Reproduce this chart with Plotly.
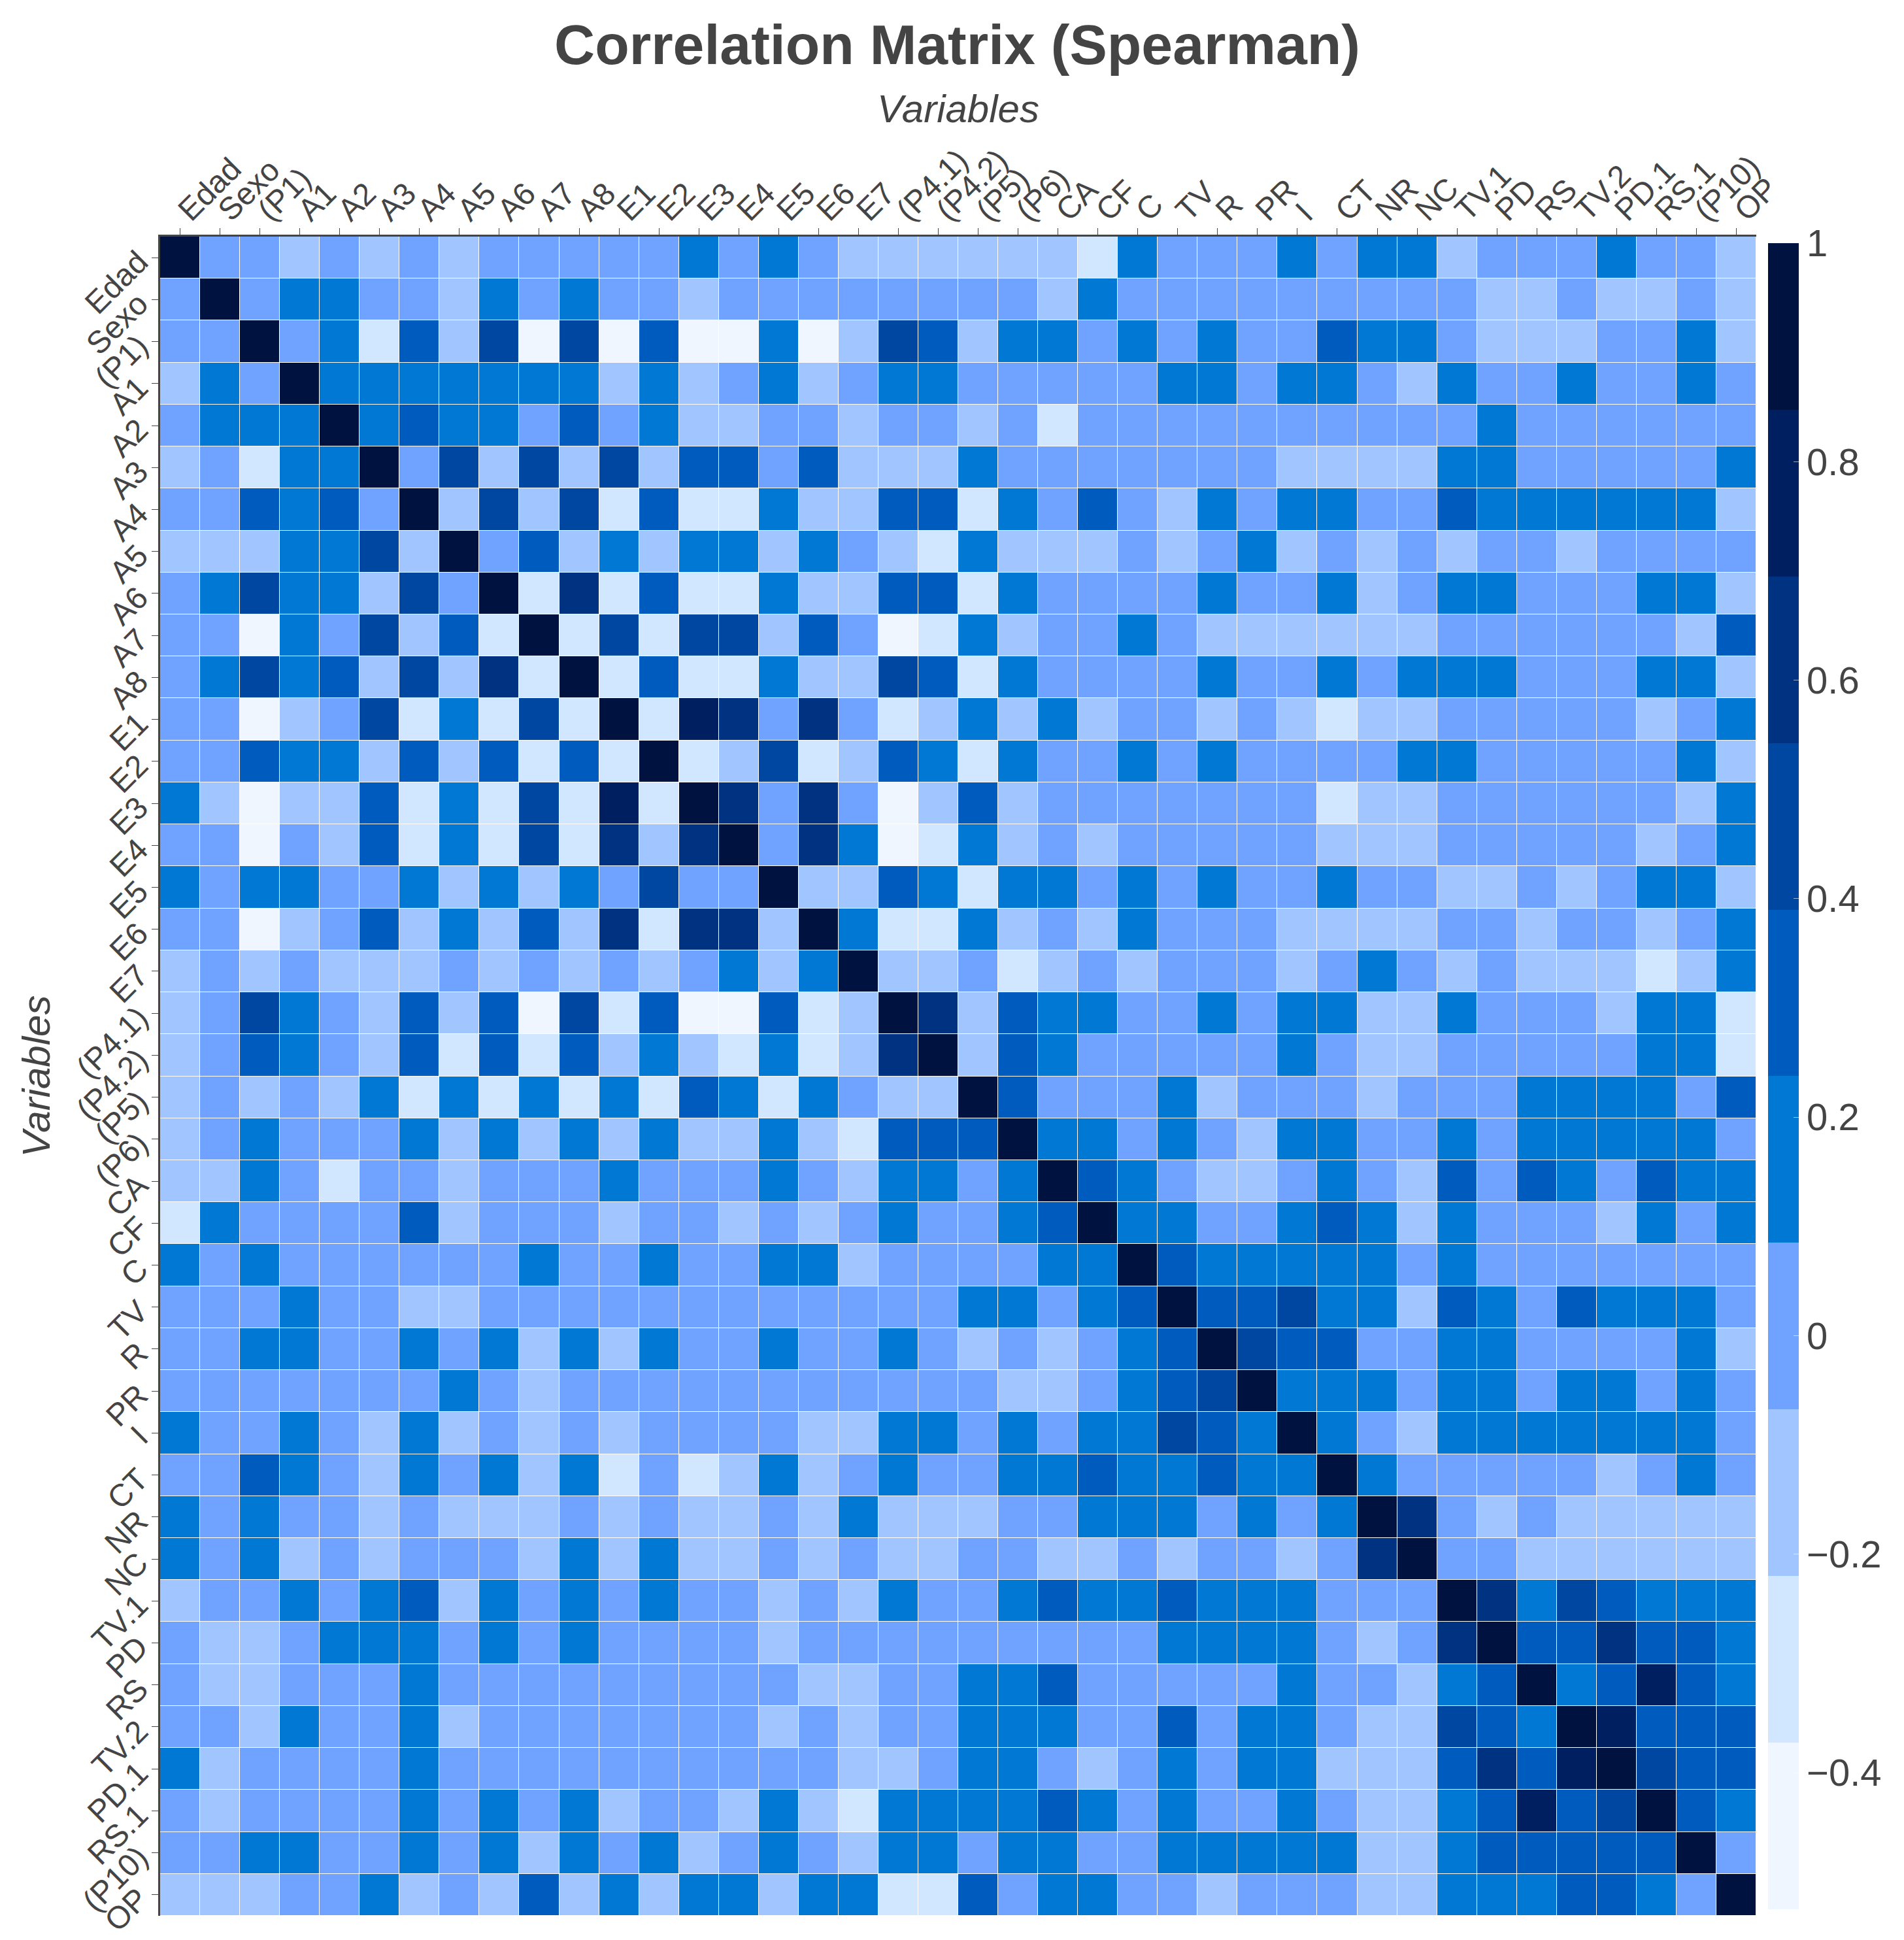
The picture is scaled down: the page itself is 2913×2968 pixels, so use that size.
import numpy as np
import plotly.graph_objects as go

# variable names, in the order they appear on both axes
variables = ["Edad", "Sexo", "(P1)", "A1", "A2", "A3", "A4", "A5", "A6", "A7",
             "A8", "E1", "E2", "E3", "E4", "E5", "E6", "E7", "(P4.1)", "(P4.2)",
             "(P5)", "(P6)", "CA", "CF", "C", "TV", "R", "PR", "I", "CT",
             "NR", "NC", "TV.1", "PD", "RS", "TV.2", "PD.1", "RS.1", "(P10)", "OP"]

# lower triangle of the Spearman matrix (row i holds columns 0..i)
rho_lower = [
    [1.0],
    [0.0, 1.0],
    [0.0, 0.0, 1.0],
    [-0.15, 0.16, 0.0, 1.0],
    [0.0, 0.16, 0.16, 0.16, 1.0],
    [-0.15, 0.0, -0.3, 0.16, 0.16, 1.0],
    [0.0, 0.0, 0.31, 0.16, 0.31, 0.0, 1.0],
    [-0.15, -0.15, -0.15, 0.16, 0.16, 0.47, -0.15, 1.0],
    [0.0, 0.16, 0.47, 0.16, 0.16, -0.15, 0.47, 0.0, 1.0],
    [0.0, 0.0, -0.45, 0.16, 0.0, 0.47, -0.15, 0.31, -0.3, 1.0],
    [0.0, 0.16, 0.47, 0.16, 0.31, -0.15, 0.47, -0.15, 0.62, -0.3, 1.0],
    [0.0, 0.0, -0.45, -0.15, 0.0, 0.47, -0.3, 0.16, -0.3, 0.47, -0.3, 1.0],
    [0.0, 0.0, 0.31, 0.16, 0.16, -0.15, 0.31, -0.15, 0.31, -0.3, 0.31, -0.3, 1.0],
    [0.16, -0.15, -0.45, -0.15, -0.15, 0.31, -0.3, 0.16, -0.3, 0.47, -0.3, 0.77, -0.3, 1.0],
    [0.0, 0.0, -0.45, 0.0, -0.15, 0.31, -0.3, 0.16, -0.3, 0.47, -0.3, 0.62, -0.15, 0.62, 1.0],
    [0.16, 0.0, 0.16, 0.16, 0.0, 0.0, 0.16, -0.15, 0.16, -0.15, 0.16, 0.0, 0.47, 0.0, 0.0, 1.0],
    [0.0, 0.0, -0.45, -0.15, 0.0, 0.31, -0.15, 0.16, -0.15, 0.31, -0.15, 0.62, -0.3, 0.62, 0.62,
     -0.15, 1.0],
    [-0.15, 0.0, -0.15, 0.0, -0.15, -0.15, -0.15, 0.0, -0.15, 0.0, -0.15, 0.0, -0.15, 0.0, 0.16,
     -0.15, 0.16, 1.0],
    [-0.15, 0.0, 0.47, 0.16, 0.0, -0.15, 0.31, -0.15, 0.31, -0.45, 0.47, -0.3, 0.31, -0.45, -0.45,
     0.31, -0.3, -0.15, 1.0],
    [-0.15, 0.0, 0.31, 0.16, 0.0, -0.15, 0.31, -0.3, 0.31, -0.3, 0.31, -0.15, 0.16, -0.15, -0.3,
     0.16, -0.3, -0.15, 0.62, 1.0],
    [-0.15, 0.0, -0.15, 0.0, -0.15, 0.16, -0.3, 0.16, -0.3, 0.16, -0.3, 0.16, -0.3, 0.31, 0.16,
     -0.3, 0.16, 0.0, -0.15, -0.15, 1.0],
    [-0.15, 0.0, 0.16, 0.0, 0.0, 0.0, 0.16, -0.15, 0.16, -0.15, 0.16, -0.15, 0.16, -0.15, -0.15,
     0.16, -0.15, -0.3, 0.31, 0.31, 0.31, 1.0],
    [-0.15, -0.15, 0.16, 0.0, -0.3, 0.0, 0.0, -0.15, 0.0, 0.0, 0.0, 0.16, 0.0, 0.0, 0.0,
     0.16, 0.0, -0.15, 0.16, 0.16, 0.0, 0.16, 1.0],
    [-0.3, 0.16, 0.0, 0.0, 0.0, 0.0, 0.31, -0.15, 0.0, 0.0, 0.0, -0.15, 0.0, 0.0, -0.15,
     0.0, -0.15, 0.0, 0.16, 0.0, 0.0, 0.16, 0.31, 1.0],
    [0.16, 0.0, 0.16, 0.0, 0.0, 0.0, 0.0, 0.0, 0.0, 0.16, 0.0, 0.0, 0.16, 0.0, 0.0,
     0.16, 0.16, -0.15, 0.0, 0.0, 0.0, 0.0, 0.16, 0.16, 1.0],
    [0.0, 0.0, 0.0, 0.16, 0.0, 0.0, -0.15, -0.15, 0.0, 0.0, 0.0, 0.0, 0.0, 0.0, 0.0,
     0.0, 0.0, 0.0, 0.0, 0.0, 0.16, 0.16, 0.0, 0.16, 0.31, 1.0],
    [0.0, 0.0, 0.16, 0.16, 0.0, 0.0, 0.16, 0.0, 0.16, -0.15, 0.16, -0.15, 0.16, 0.0, 0.0,
     0.16, 0.0, 0.0, 0.16, 0.0, -0.15, 0.0, -0.15, 0.0, 0.16, 0.31, 1.0],
    [0.0, 0.0, 0.0, 0.0, 0.0, 0.0, 0.0, 0.16, 0.0, -0.15, 0.0, 0.0, 0.0, 0.0, 0.0,
     0.0, 0.0, 0.0, 0.0, 0.0, 0.0, -0.15, -0.15, 0.0, 0.16, 0.31, 0.47, 1.0],
    [0.16, 0.0, 0.0, 0.16, 0.0, -0.15, 0.16, -0.15, 0.0, -0.15, 0.0, -0.15, 0.0, 0.0, 0.0,
     0.0, -0.15, -0.15, 0.16, 0.16, 0.0, 0.16, 0.0, 0.16, 0.16, 0.47, 0.31, 0.16, 1.0],
    [0.0, 0.0, 0.31, 0.16, 0.0, -0.15, 0.16, 0.0, 0.16, -0.15, 0.16, -0.3, 0.0, -0.3, -0.15,
     0.16, -0.15, 0.0, 0.16, 0.0, 0.0, 0.16, 0.16, 0.31, 0.16, 0.16, 0.31, 0.16, 0.16, 1.0],
    [0.16, 0.0, 0.16, 0.0, 0.0, -0.15, 0.0, -0.15, -0.15, -0.15, 0.0, -0.15, 0.0, -0.15, -0.15,
     0.0, -0.15, 0.16, -0.15, -0.15, -0.15, 0.0, 0.0, 0.16, 0.16, 0.16, 0.0, 0.16, 0.0, 0.16,
     1.0],
    [0.16, 0.0, 0.16, -0.15, 0.0, -0.15, 0.0, 0.0, 0.0, -0.15, 0.16, -0.15, 0.16, -0.15, -0.15,
     0.0, -0.15, 0.0, -0.15, -0.15, 0.0, 0.0, -0.15, -0.15, 0.0, -0.15, 0.0, 0.0, -0.15, 0.0,
     0.62, 1.0],
    [-0.15, 0.0, 0.0, 0.16, 0.0, 0.16, 0.31, -0.15, 0.16, 0.0, 0.16, 0.0, 0.16, 0.0, 0.0,
     -0.15, 0.0, -0.15, 0.16, 0.0, 0.0, 0.16, 0.31, 0.16, 0.16, 0.31, 0.16, 0.16, 0.16, 0.0,
     0.0, 0.0, 1.0],
    [0.0, -0.15, -0.15, 0.0, 0.16, 0.16, 0.16, 0.0, 0.16, 0.0, 0.16, 0.0, 0.0, 0.0, 0.0,
     -0.15, 0.0, 0.0, 0.0, 0.0, 0.0, 0.0, 0.0, 0.0, 0.0, 0.16, 0.16, 0.16, 0.16, 0.0,
     -0.15, 0.0, 0.62, 1.0],
    [0.0, -0.15, -0.15, 0.0, 0.0, 0.0, 0.16, 0.0, 0.0, 0.0, 0.0, 0.0, 0.0, 0.0, 0.0,
     0.0, -0.15, -0.15, 0.0, 0.0, 0.16, 0.16, 0.31, 0.0, 0.0, 0.0, 0.0, 0.0, 0.16, 0.0,
     0.0, -0.15, 0.16, 0.31, 1.0],
    [0.0, 0.0, -0.15, 0.16, 0.0, 0.0, 0.16, -0.15, 0.0, 0.0, 0.0, 0.0, 0.0, 0.0, 0.0,
     -0.15, 0.0, -0.15, 0.0, 0.0, 0.16, 0.16, 0.16, 0.0, 0.0, 0.31, 0.0, 0.16, 0.16, 0.0,
     -0.15, -0.15, 0.47, 0.31, 0.16, 1.0],
    [0.16, -0.15, 0.0, 0.0, 0.0, 0.0, 0.16, 0.0, 0.0, 0.0, 0.0, 0.0, 0.0, 0.0, 0.0,
     0.0, 0.0, -0.15, -0.15, 0.0, 0.16, 0.16, 0.0, -0.15, 0.0, 0.16, 0.0, 0.16, 0.16, -0.15,
     -0.15, -0.15, 0.31, 0.62, 0.31, 0.77, 1.0],
    [0.0, -0.15, 0.0, 0.0, 0.0, 0.0, 0.16, 0.0, 0.16, 0.0, 0.16, -0.15, 0.0, 0.0, -0.15,
     0.16, -0.15, -0.3, 0.16, 0.16, 0.16, 0.16, 0.31, 0.16, 0.0, 0.16, 0.0, 0.0, 0.16, 0.0,
     -0.15, -0.15, 0.16, 0.31, 0.77, 0.31, 0.47, 1.0],
    [0.0, 0.0, 0.16, 0.16, 0.0, 0.0, 0.16, 0.0, 0.16, -0.15, 0.16, 0.0, 0.16, -0.15, 0.0,
     0.16, 0.0, -0.15, 0.16, 0.16, 0.0, 0.16, 0.16, 0.0, 0.0, 0.16, 0.16, 0.16, 0.16, 0.16,
     -0.15, -0.15, 0.16, 0.31, 0.31, 0.31, 0.31, 0.31, 1.0],
    [-0.15, -0.15, -0.15, 0.0, 0.0, 0.16, -0.15, 0.0, -0.15, 0.31, -0.15, 0.16, -0.15, 0.16, 0.16,
     -0.15, 0.16, 0.16, -0.3, -0.3, 0.31, 0.0, 0.16, 0.16, 0.0, 0.0, -0.15, 0.0, 0.0, 0.0,
     -0.15, -0.15, 0.16, 0.16, 0.16, 0.31, 0.31, 0.16, 0.0, 1.0],
]

# colour bands of the stepped scale, lowest first
band_colors = ["#eff6ff", "#d1e6ff", "#a1c6ff", "#70a3ff", "#0078d4",
               "#005bbf", "#0047a1", "#003282", "#001f60", "#001240"]
z_min, z_max = -0.525, 1.0
cbar_ticks = [-0.4, -0.2, 0, 0.2, 0.4, 0.6, 0.8, 1]

n = len(variables)
rho = np.zeros((n, n))
for i, row in enumerate(rho_lower):
    assert len(row) == i + 1, (i, len(row))
    for j, v in enumerate(row):
        rho[i, j] = v
        rho[j, i] = v

# stepped colorscale: each band repeated at both of its edges
colorscale = []
for k, c in enumerate(band_colors):
    colorscale.append([k / len(band_colors), c])
    colorscale.append([(k + 1) / len(band_colors), c])

FONT = "Liberation Sans, Arial, sans-serif"

fig = go.Figure(go.Heatmap(
    z=rho,
    x=variables,
    y=variables,
    zmin=z_min,
    zmax=z_max,
    colorscale=colorscale,
    xgap=1,
    ygap=1,
    colorbar=dict(
        tickvals=cbar_ticks,
        ticks="inside",
        ticklen=8,
        tickcolor="rgba(255,255,255,0.6)",
        thickness=47,
        outlinewidth=0,
        x=1.0074,
        xanchor="left",
        xpad=0,
        tickfont=dict(size=58, color="#444", family=FONT),
    ),
))

axis_style = dict(
    tickmode="array",
    tickvals=variables,
    ticktext=variables,
    tickangle=-45,
    ticks="outside",
    ticklen=10,
    tickcolor="#444",
    showline=True,
    linecolor="#444",
    linewidth=3,
    tickfont=dict(size=48),
    showgrid=False,
    zeroline=False,
)

fig.update_layout(
    width=2913,
    height=2968,
    paper_bgcolor="white",
    plot_bgcolor="white",
    font=dict(family=FONT, color="#444"),
    margin=dict(l=237, r=234, t=354, b=22),
    title=dict(
        text="<b>Correlation Matrix (Spearman)</b>",
        x=0.5, xanchor="center",
        y=1 - 60 / 2968, yanchor="middle",
        font=dict(size=86, color="#444", family=FONT),
    ),
    xaxis=dict(side="top", ticklabelstandoff=-18, **axis_style),
    yaxis=dict(autorange="reversed", ticklabelstandoff=10, **axis_style),
    annotations=[
        dict(text="<i>Variables</i>", xref="paper", yref="paper",
             x=0.5, y=(2946 - 157) / 2592, xanchor="center", yanchor="middle",
             showarrow=False, font=dict(size=60, color="#444")),
        dict(text="<i>Variables</i>", xref="paper", yref="paper",
             x=(47 - 237) / 2442, y=0.5, xanchor="center", yanchor="middle",
             textangle=-90, showarrow=False, font=dict(size=60, color="#444")),
    ],
)

fig.write_html("out.html")
